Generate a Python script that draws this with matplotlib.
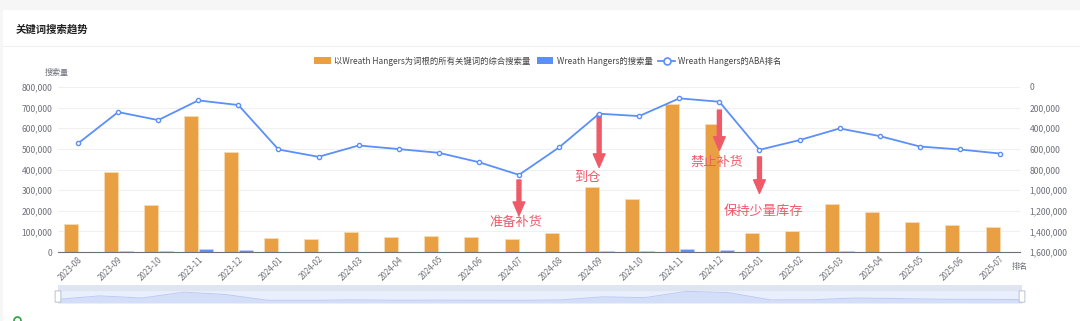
import matplotlib
matplotlib.use("Agg")
import matplotlib.pyplot as plt
from matplotlib.patches import Patch, Rectangle, FancyBboxPatch
from matplotlib.lines import Line2D
from matplotlib.ticker import FuncFormatter

plt.rcParams['font.family'] = ['Noto Sans CJK SC', 'DejaVu Sans']

months = ['2023-08', '2023-09', '2023-10', '2023-11', '2023-12', '2024-01', '2024-02', '2024-03',
          '2024-04', '2024-05', '2024-06', '2024-07', '2024-08', '2024-09', '2024-10', '2024-11',
          '2024-12', '2025-01', '2025-02', '2025-03', '2025-04', '2025-05', '2025-06', '2025-07']
total_search = [136000, 387000, 230000, 657000, 484000, 68000, 63000, 96000,
                73000, 78000, 74000, 63000, 92000, 316000, 259000, 717000,
                619000, 94000, 102000, 232000, 194000, 144000, 133000, 123000]
kw_search = [2000, 6000, 4000, 13000, 11000, 2000, 1500, 1500,
             1500, 1500, 1500, 1500, 2000, 6000, 5000, 16000,
             11000, 2000, 1500, 3000, 2000, 1500, 1500, 1500]
aba_rank = [547000, 243000, 321000, 130000, 175000, 606000, 677000, 567000,
            602000, 638000, 729000, 852000, 586000, 259000, 282000, 110000,
            143000, 609000, 515000, 402000, 476000, 577000, 606000, 645000]

# annotations: (text, x index, arrow top, arrow tip, text x, text y)  -- in left axis units
notes = [('准备补货', 11, 349000, 177000, 10.92, 145000),
         ('到仓', 13, 669000, 410000, 12.72, 359000),
         ('禁止补货', 16, 688000, 493000, 15.93, 436000),
         ('保持少量库存', 17, 461000, 284000, 17.1, 199000)]

W, H = 1080, 321
fig = plt.figure(figsize=(W / 100, H / 100), dpi=100)
fig.patch.set_facecolor('#f6f6f6')

def px(x, y, w, h):
    return [x / W, 1 - (y + h) / H, w / W, h / H]

# white card
card = fig.add_axes(px(3, 10, 1077, 311))
card.set_xlim(0, 1); card.set_ylim(0, 1); card.axis('off')
card.add_patch(Rectangle((0, 0), 1, 1, color='white', transform=card.transAxes))
fig.add_artist(Line2D([3 / W, 1], [1 - 46 / H, 1 - 46 / H], color='#f0f0f0', lw=0.8))
fig.text(16 / W, 1 - 29 / H, '关键词搜索趋势', fontsize=7.5, fontweight='bold',
         color='#222222', va='center', ha='left')

grey = '#6e7079'
orange = '#e9a042'
blue = '#5b8ff9'
red = '#ef5a69'

ax = fig.add_axes(px(58, 87, 962, 165))
x = list(range(len(months)))
ax.bar([i - 0.185 for i in x], total_search, width=0.35, color=orange,
       edgecolor='#f7dcb4', linewidth=0.6, zorder=2)
ax.bar([i + 0.185 for i in x], kw_search, width=0.35, color=blue,
       edgecolor='#c9d9fc', linewidth=0.4, zorder=2)
ax.set_xlim(-0.5, len(months) - 0.5)
ax.set_ylim(0, 800000)
ax.set_yticks(range(0, 800001, 100000))
ax.yaxis.set_major_formatter(FuncFormatter(lambda v, p: f'{int(v):,}'))
ax.grid(axis='y', color='#f0f0f0', lw=0.8, zorder=0)
ax.set_axisbelow(True)
for s in ['top', 'right', 'left']:
    ax.spines[s].set_visible(False)
ax.spines['bottom'].set_color(grey)
ax.spines['bottom'].set_linewidth(0.8)
ax.tick_params(axis='y', length=0, labelsize=6.2, labelcolor=grey, pad=4)
ax.tick_params(axis='x', length=0, labelsize=5.8, labelcolor=grey, pad=2)
ax.set_xticks(x)
ax.set_xticklabels(months, rotation=45, ha='right', rotation_mode='anchor')

ax2 = ax.twinx()
ax2.plot(x, aba_rank, color=blue, lw=1.3, marker='o', ms=3.0, mfc='white',
         mec=blue, mew=1.0, zorder=3)
ax2.set_ylim(1600000, 0)
ax2.set_yticks(range(0, 1600001, 200000))
ax2.yaxis.set_major_formatter(FuncFormatter(lambda v, p: f'{int(v):,}'))
for s in ['top', 'right', 'left', 'bottom']:
    ax2.spines[s].set_visible(False)
ax2.tick_params(axis='y', length=0, labelsize=6.2, labelcolor=grey, pad=7)

fig.text(57 / W, 1 - 72 / H, '搜索量', fontsize=5.8, color=grey, ha='center', va='center')
fig.text(1020 / W, 1 - 266 / H, '排名', fontsize=5.8, color=grey, ha='center', va='center')

for txt, xi, ytop, ytip, tx, ty in notes:
    ax.annotate('', xy=(xi, ytip), xytext=(xi, ytop),
                arrowprops=dict(arrowstyle='simple,head_length=0.75,head_width=0.65,tail_width=0.22',
                                color=red, mutation_scale=13, shrinkA=0, shrinkB=0), zorder=5)
    ax.text(tx, ty, txt, fontsize=9.5, color=red, ha='center', va='center', zorder=5)

handles = [Patch(facecolor=orange, edgecolor='none'),
           Patch(facecolor=blue, edgecolor='none'),
           Line2D([], [], color=blue, lw=1.3, marker='o', ms=5, mfc='white', mec=blue, mew=1.2)]
labels = ['以Wreath Hangers为词根的所有关键词的综合搜索量', 'Wreath Hangers的搜索量', 'Wreath Hangers的ABA排名']
fig.legend(handles, labels, loc='center', bbox_to_anchor=(548 / W, 1 - 61 / H), ncol=3,
           frameon=False, fontsize=6, labelcolor='#444444', handlelength=2.0, handleheight=0.9,
           handletextpad=0.4, columnspacing=0.7)

# data zoom slider
sl = fig.add_axes(px(58, 285, 964, 18))
sl.set_xlim(0, len(months) - 1)
sl.set_ylim(0, 1)
sl.axis('off')
sl.add_patch(Rectangle((0, 0), 1, 1, transform=sl.transAxes, color='#e9effd', zorder=0))
sl.add_patch(Rectangle((0, 0.72), 1, 0.28, transform=sl.transAxes, color='#dfe5f1', zorder=1))
mx = max(total_search)
shadow = [0.1 + 0.55 * v / mx for v in total_search]
sl.fill_between(x, 0, shadow, color='#d4def8', lw=0, zorder=2)
sl.plot(x, shadow, color='#bccbf3', lw=0.7, zorder=3)
for hx in [0.0, 1.0]:
    sl.add_patch(FancyBboxPatch((hx - 0.002, 0.05), 0.004, 0.62, boxstyle='round,pad=0.001',
                                transform=sl.transAxes, facecolor='white', edgecolor='#b0b8c8',
                                lw=0.6, zorder=4, clip_on=False))

fig.add_artist(Line2D([17 / W], [1 - 320 / H], marker='o', ms=5, mfc='white', mec='#2f9e44', mew=1.2))

fig.savefig('out.png', dpi=100)
